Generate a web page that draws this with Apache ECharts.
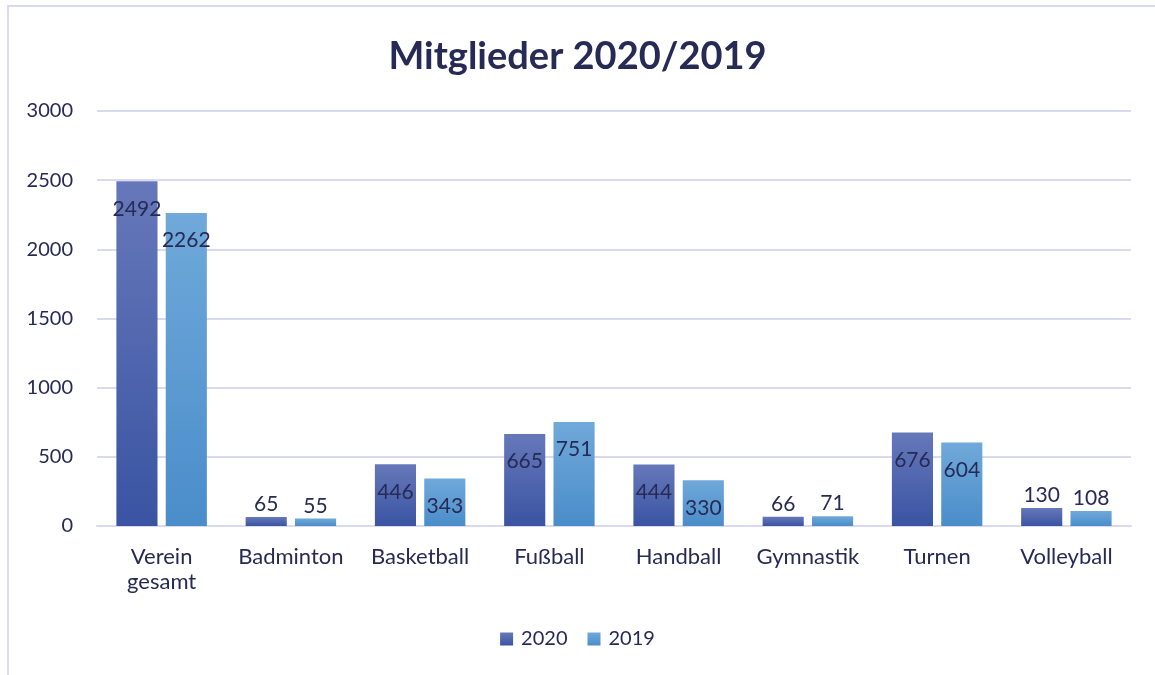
<!DOCTYPE html>
<html lang="de">
<head>
    <meta charset="UTF-8">
    <title>Mitglieder 2020/2019</title>
    <style>
        body { margin: 0; overflow: hidden; background: #fff; }
        #chart { width: 1155px; height: 675px; }
    </style>
</head>
<body>
    <div id="chart"></div>
    <script src="https://cdn.jsdelivr.net/npm/echarts@6/dist/echarts.min.js"></script>
    <script>
        var categories = ['Verein\ngesamt', 'Badminton', 'Basketball', 'Fußball', 'Handball', 'Gymnastik', 'Turnen', 'Volleyball'];
        var values2020 = [2492, 65, 446, 665, 444, 66, 676, 130];
        var values2019 = [2262, 55, 343, 751, 330, 71, 604, 108];
        var yTicks = { min: 0, max: 3000, interval: 500 };

        var textColor = '#262a55';
        var lineColor = '#d9d9ef';
        var font = 'Lato, "Open Sans", sans-serif';

        function grad(top, bottom) {
            return new echarts.graphic.LinearGradient(0, 0, 0, 1, [
                { offset: 0, color: top },
                { offset: 1, color: bottom }
            ]);
        }

        // Excel-like inside-end labels; short bars get the label above
        function toData(vals) {
            return vals.map(function (v) {
                if (v < 200) {
                    return { value: v, label: { position: 'top', distance: 2 } };
                }
                return v;
            });
        }

        var labelStyle = {
            show: true,
            position: 'insideTop',
            distance: 17,
            color: textColor,
            fontSize: 21,
            fontFamily: font
        };

        var myChart = echarts.init(document.getElementById('chart'));

        var option = {
            animation: false,
            title: {
                text: 'Mitglieder 2020/2019',
                left: 'center',
                top: 33,
                textStyle: {
                    color: textColor,
                    fontSize: 38,
                    fontWeight: 'bold',
                    fontFamily: font
                }
            },
            graphic: [{
                type: 'rect',
                shape: { x: 8, y: 6, width: 1200, height: 720 },
                style: { fill: 'none', stroke: lineColor, lineWidth: 2 },
                silent: true
            }],
            legend: {
                bottom: 21,
                left: 'center',
                itemWidth: 13,
                itemHeight: 13,
                itemGap: 20,
                icon: 'rect',
                textStyle: { color: textColor, fontSize: 20, fontFamily: font, padding: [0, 0, 0, 3] },
                data: ['2020', '2019']
            },
            grid: {
                left: 97,
                right: 24,
                top: 111,
                bottom: 149
            },
            xAxis: {
                type: 'category',
                data: categories,
                axisLine: { lineStyle: { color: lineColor, width: 2 } },
                axisTick: { show: false },
                axisLabel: {
                    color: textColor,
                    fontSize: 22,
                    fontFamily: font,
                    margin: 18,
                    lineHeight: 25,
                    interval: 0
                }
            },
            yAxis: {
                type: 'value',
                min: yTicks.min,
                max: yTicks.max,
                interval: yTicks.interval,
                axisLine: { show: false },
                axisTick: { show: false },
                splitLine: { lineStyle: { color: lineColor, width: 2 } },
                axisLabel: {
                    color: textColor,
                    fontSize: 20,
                    fontFamily: font,
                    margin: 24,
                    formatter: function (v) { return String(v); }
                }
            },
            series: [{
                name: '2020',
                type: 'bar',
                data: toData(values2020),
                barGap: '20%',
                barCategoryGap: '30%',
                itemStyle: { color: grad('#6678b9', '#3a54a3') },
                label: labelStyle
            }, {
                name: '2019',
                type: 'bar',
                data: toData(values2019),
                itemStyle: { color: grad('#70a9da', '#4a8dca') },
                label: labelStyle
            }]
        };

        myChart.setOption(option);
    </script>
</body>
</html>
